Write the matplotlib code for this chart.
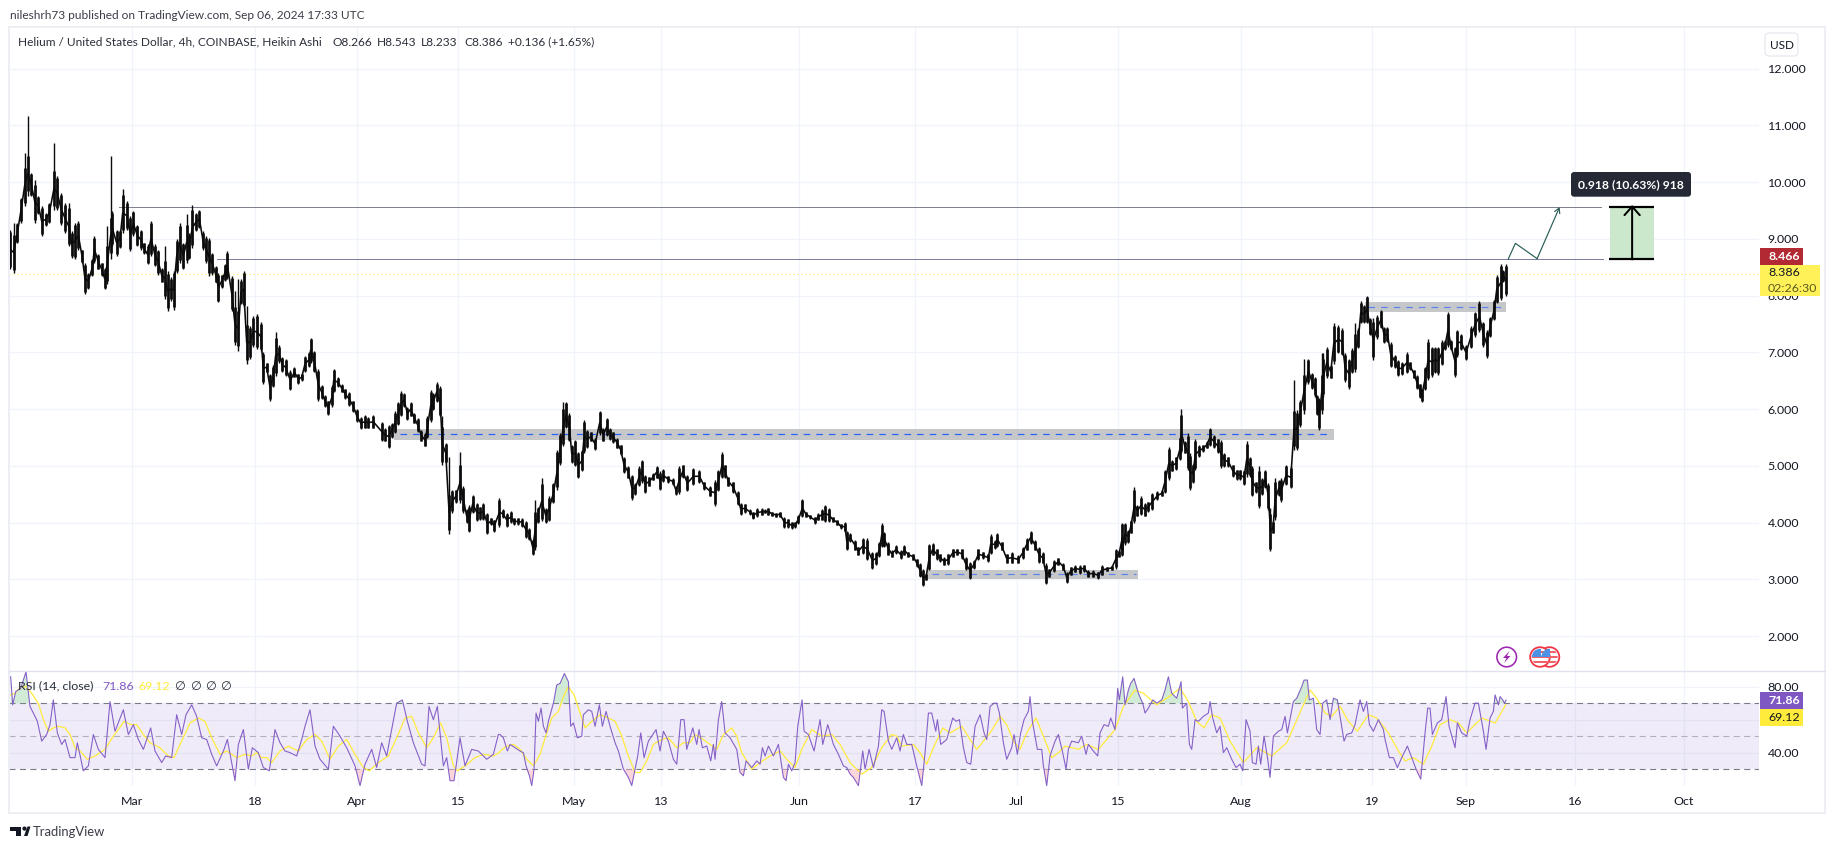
import numpy as np
import matplotlib
matplotlib.use("Agg")
import matplotlib.pyplot as plt
from matplotlib.patches import Rectangle, Circle, Polygon, FancyBboxPatch

plt.rcParams['font.family'] = ['Lato', 'DejaVu Sans']
W, H = 1835, 849
PX = 72 / 100

# ---- price data: time ticks (1 tick = 1/21.75 day from each block start) ----
block_start = [-17.52, 34.21, 85.24, 136.28]
t1 = [15,26,37,48,59,68,79,90,100,110,
122,133,147,157,168,180,191,200,210,220,
231,240,250,262,268,280,290,299,307,317,
322,335,345,353,365,376,385,397,407,417,
428,438,450,460,470,480,488,497,506,515,
524,535,545,552,562,573,583,594,604,612,
622,632,640,650,660,667,680,690,700,708,
716,725,735,745,755,767,775,785,795,805,
812,822,832,842,856,868,880,890,900,912,
917,928,940,950,960,970,982,986,998,1010,
1020,1032,1045,1055,1067,1080,1090,1105]
hi1 = [9.16,9.28,9.28,9.72,10.51,11.16,10.16,10.04,9.75,9.57,
9.46,9.63,10.68,10.1,9.81,9.63,9.63,9.13,9.28,9.31,
8.81,8.58,8.40,8.64,9.05,8.73,8.58,8.49,9.22,10.46,
9.49,9.16,9.16,9.87,9.66,9.4,9.49,9.25,9.16,8.93,
8.9,9.31,8.9,8.81,8.49,8.87,8.43,8.32,8.43,8.99,
9.27,8.93,9.43,9.1,9.6,9.46,9.51,9.13,9.05,9.02,
8.75,8.52,8.4,8.37,8.55,8.78,8.35,8.08,8.29,8.29,
8.43,7.82,7.47,7.64,7.67,7.53,7.0,6.82,6.62,6.77,
7.35,7.12,6.91,6.88,6.68,6.74,6.62,6.62,6.94,7.0,
7.26,7.03,6.71,6.42,6.24,6.15,6.42,6.71,6.56,6.44,
6.36,6.3,6.15,6.0,5.86,5.89,5.86,5.89]
lo1 = [8.46,8.40,8.93,9.28,9.57,9.75,9.75,9.28,9.43,9.05,
9.22,9.28,9.51,9.51,9.25,9.1,8.87,8.67,8.65,8.81,
8.58,8.02,8.11,8.35,8.58,8.46,8.35,8.11,8.2,8.64,
8.87,8.7,8.84,9.1,9.16,8.78,9.05,8.87,8.81,8.73,
8.55,8.7,8.52,8.37,8.23,7.94,7.73,7.91,7.75,8.4,
8.58,8.46,8.58,8.64,8.84,9.13,9.19,8.81,8.58,8.35,
8.37,8.23,7.88,8.14,8.26,8.29,7.73,7.12,7.03,7.85,
7.79,6.8,6.88,7.09,7.06,7.03,6.44,6.65,6.15,6.39,
6.59,6.82,6.65,6.59,6.33,6.56,6.44,6.5,6.65,6.74,
6.82,6.65,6.15,6.18,6.04,5.89,6.04,6.3,6.39,6.3,
6.18,6.06,5.95,5.77,5.65,5.66,5.66,5.66]

t2 = [5,15,26,35,45,55,63,72,82,92,
103,113,124,135,142,152,160,170,180,187,
197,207,217,227,240,250,260,268,278,290,
300,310,322,332,343,358,368,380,392,402,
415,425,438,448,458,466,473,485,497,507,
520,532,540,550,558,568,575,585,595,606,
612,622,632,645,659,670,680,690,700,712,
722,732,745,755,765,778,785,795,808,820,
830,840,850,865,878,888,898,908,922,940,
958,972,990,1005,1015,1026,1035,1045,1060,1073,
1082,1095,1110,1120]
hi2 = [5.78,5.66,5.72,5.75,5.96,6.13,6.31,6.28,6.04,6.13,
5.93,5.84,5.63,5.57,5.87,6.34,6.28,6.47,6.4,5.87,
5.4,5.16,4.58,4.58,5.25,4.64,4.23,4.31,4.49,4.34,
4.28,4.34,4.17,4.08,4.05,4.43,4.23,4.17,4.2,4.08,
4.08,4.08,4.02,3.9,3.7,4.4,4.28,4.78,4.26,4.46,
4.7,5.28,5.57,6.13,6.13,5.93,5.37,5.46,5.25,5.28,
5.81,5.63,5.6,5.49,5.97,5.66,5.85,5.66,5.6,5.49,
5.37,5.16,4.99,4.84,4.7,4.99,5.1,4.84,4.81,4.87,
5.0,4.9,4.94,4.82,4.78,4.64,4.99,5.02,4.84,4.96,
4.93,4.72,4.64,4.75,4.93,5.24,5.02,4.81,4.72,4.55,
4.34,4.33,4.23,4.17]
lo2 = [5.43,5.43,5.31,5.49,5.57,5.72,5.87,6.04,5.81,5.87,
5.75,5.6,5.43,5.34,5.49,5.78,5.99,6.13,5.87,5.02,
5.05,3.79,4.17,4.34,4.34,4.17,3.99,3.83,4.17,4.02,
4.05,4.05,3.79,3.96,3.84,3.93,4.08,3.93,3.99,3.96,
3.96,3.93,3.73,3.7,3.43,3.52,3.99,4.02,3.99,4.02,
4.34,4.58,5.02,5.34,5.66,5.43,5.05,4.99,4.78,4.9,
5.22,5.31,5.43,5.28,5.55,5.43,5.52,5.46,5.4,5.31,
5.19,4.87,4.78,4.4,4.49,4.64,4.7,4.52,4.64,4.75,
4.78,4.58,4.72,4.7,4.67,4.49,4.51,4.78,4.55,4.67,
4.7,4.58,4.46,4.3,4.55,4.78,4.78,4.64,4.52,4.31,
4.14,4.17,4.14,4.08]

t3 = [10,22,35,45,55,67,78,90,103,113,
125,135,145,157,168,180,195,205,215,226,
237,248,262,272,285,290,300,315,325,338,
352,367,378,388,395,403,415,425,438,452,
463,475,490,500,510,518,528,538,548,560,
570,582,595,608,622,635,647,660,672,685,
698,715,722,735,742,755,770,785,805,818,
830,842,855,868,878,888,898,912,925,940,
950,962,975,990,1002,1015,1030,1045,1055,1070,
1085,1098,1107,1117]
hi3 = [4.19,4.25,4.25,4.23,4.26,4.19,4.17,4.19,4.1,4.07,
4.01,4.01,4.13,4.41,4.19,4.13,4.1,4.16,4.23,4.31,
4.25,4.1,4.05,3.98,4.01,3.85,3.81,3.69,3.57,3.72,
3.72,3.48,3.48,3.66,3.99,3.84,3.66,3.51,3.6,3.51,
3.6,3.48,3.45,3.36,3.28,3.19,3.1,3.63,3.64,3.54,
3.45,3.39,3.45,3.54,3.54,3.54,3.39,3.31,3.34,3.54,
3.48,3.45,3.79,3.69,3.82,3.66,3.45,3.48,3.42,3.57,
3.72,3.85,3.69,3.57,3.48,3.28,3.19,3.34,3.38,3.28,
3.13,3.22,3.25,3.25,3.26,3.16,3.16,3.13,3.25,3.22,
3.24,3.54,3.51,4.0]
lo3 = [4.07,4.1,4.13,4.16,4.13,4.11,4.1,4.1,3.91,3.91,
3.89,3.91,3.98,4.1,4.1,4.07,3.98,4.04,4.04,4.01,
4.01,4.01,3.95,3.89,3.84,3.51,3.66,3.51,3.42,3.45,
3.34,3.19,3.25,3.39,3.57,3.57,3.42,3.39,3.45,3.36,
3.42,3.39,3.34,3.22,3.04,2.88,2.98,3.16,3.42,3.34,
3.31,3.25,3.25,3.39,3.42,3.36,3.16,3.0,3.19,3.34,
3.36,3.31,3.45,3.54,3.57,3.51,3.28,3.28,3.28,3.36,
3.51,3.63,3.51,3.28,3.28,2.92,3.04,3.13,3.25,3.16,
2.94,3.07,3.13,3.1,3.13,3.04,3.04,3.01,3.07,3.15,
3.16,3.19,3.39,3.48]

t4 = [5,15,25,32,43,52,62,75,85,97,
112,125,135,146,155,168,180,184,195,203,
209,218,226,237,250,260,270,282,293,303,
313,325,338,350,360,372,380,390,397,408,
418,427,436,445,451,459,465,476,484,498,
512,522,530,540,551,565,575,585,592,598,
605,610,620,632,641,655,666,675,686,697,
705,715,722,732,741,750,760,772,783,792,
802,812,825,833,845,860,870,882,890,900,
905,915,924,935,945,955,965,975,984,992,
1005,1012,1022,1038,1052,1065,1078,1090,1100,1110,
1122,1130,1143,1150,1157]
hi4 = [3.7,3.99,3.87,4.05,4.62,4.31,4.46,4.34,4.37,4.52,
4.55,4.57,4.93,5.33,5.1,5.16,5.51,6.0,5.43,5.57,
5.22,5.04,5.47,5.37,5.37,5.43,5.67,5.54,5.48,5.45,
5.22,5.16,5.02,4.93,4.93,4.93,5.43,5.16,4.99,4.72,
4.99,4.78,4.93,4.69,4.25,4.02,4.79,4.75,4.78,5.01,
4.99,6.51,5.98,6.16,6.89,6.89,6.63,6.57,6.25,6.19,
6.98,6.98,7.1,6.77,7.51,7.48,7.42,6.98,6.89,7.07,
7.51,7.42,7.9,7.83,8.0,7.6,7.6,7.65,7.74,7.45,
7.45,7.18,6.95,6.86,6.83,7.0,6.83,6.69,6.6,6.45,
6.36,6.74,7.24,7.1,7.1,7.1,7.21,7.21,7.71,7.21,
7.1,7.4,7.33,7.13,7.46,7.71,7.9,7.54,7.39,7.62,
7.92,8.36,8.56,8.45,8.55]
lo4 = [3.41,3.61,3.64,3.81,3.99,4.11,4.13,4.11,4.19,4.22,
4.4,4.46,4.52,4.75,4.9,4.93,5.1,5.22,5.22,4.93,
4.57,4.69,4.93,5.16,5.25,5.31,5.34,5.31,5.22,4.96,
4.98,4.98,4.81,4.75,4.75,4.66,4.81,4.81,4.46,4.52,
4.25,4.49,4.6,4.22,3.49,3.81,4.05,4.46,4.37,4.66,
4.6,5.28,5.28,5.69,5.92,6.45,6.36,6.22,5.89,5.63,
5.92,6.22,6.54,6.54,6.8,6.98,6.95,6.48,6.36,6.63,
6.66,7.07,7.51,7.51,7.51,7.3,6.87,7.24,7.42,7.16,
7.18,6.74,6.72,6.58,6.6,6.63,6.69,6.54,6.36,6.19,
6.13,6.33,6.51,6.56,6.63,6.6,6.77,7.04,7.1,7.04,
6.57,6.92,7.04,6.86,7.07,7.27,7.36,7.1,6.9,7.27,
7.57,7.86,7.92,8.24,8.0]

# ---- RSI data ----
rsi_start = [-18.21, 50.76, 119.72]
rt1 = [32,38,47,62,78,90,105,112,125,140,150,160,172,185,195,210,225,232,250,265,
280,295,315,330,345,370,385,400,415,430,452,465,485,497,515,530,545,558,575,590,
605,620,635,650,672,682,705,715,730,745,757,775,790,808,825,840,855,870,890,905,
915,930,945,960,985,1000,1020,1040,1065,1080,1095,1115,1130,1145,1160,1172,1190,1207,1222,1240,
1265,1275,1287,1300,1312,1330,1340,1350,1362,1380,1395,1415,1435,1460,1480,1495]
rv1 = [86,69,77,79,89,68,62,59,47,51,57,72,52,45,48,37,37,46,29,32,
51,42,37,71,53,66,51,57,48,42,55,41,34,38,37,63,51,63,69,62,
49,48,39,32,42,48,23,45,54,30,43,40,31,29,54,46,41,40,38,48,
56,66,44,36,30,56,50,43,32,20,33,42,31,46,38,51,70,72,59,46,
33,32,68,60,68,32,37,23,23,49,32,42,41,36,39,51]
rt2 = [0,10,22,30,45,60,70,78,88,95,102,108,115,123,130,138,145,160,170,180,
193,205,212,220,232,245,250,265,275,285,298,307,318,330,345,355,370,385,395,405,
413,422,432,445,468,480,490,505,520,530,542,552,560,578,590,597,607,620,632,640,
645,655,665,675,690,710,720,730,738,755,770,780,787,795,805,820,835,850,858,865,
875,885,893,906,912,925,942,960,968,983,1000,1015,1030,1040,1050,1060,1075,1088,1095,1107,
1120,1135,1145,1152,1165,1175,1190,1200,1210,1220,1235,1250,1265,1275,1285,1295,1307,1312,1322,1340,
1358,1368,1378,1390,1400,1412,1425,1440,1452,1460,1470,1482,1490,1498]
rv2 = [51,49,41,45,43,41,40,32,26,20,30,64,59,67,56,52,59,70,81,82,
88,83,56,58,49,50,63,66,65,56,69,56,65,56,46,41,30,25,20,30,
38,52,37,47,54,41,53,47,36,33,60,60,42,55,45,54,43,44,35,45,
36,60,71,52,49,42,28,26,35,31,35,33,43,38,44,38,45,25,23,33,
29,34,56,72,53,51,41,60,45,57,45,39,32,31,27,25,20,41,30,42,
31,44,66,65,47,42,49,41,51,45,45,32,20,40,64,64,53,60,45,48,
61,59,60,43,34,33,56,63,52,48,68,70,70,64]
rt3 = [0,10,20,35,42,52,62,72,85,90,97,112,125,130,140,150,165,175,188,198,
205,215,235,245,258,265,280,293,300,312,325,332,345,353,358,368,375,385,392,402,
415,428,435,445,458,470,485,495,505,515,530,543,547,560,568,575,585,595,610,625,
630,638,650,660,670,680,695,708,720,728,738,750,757,768,775,782,792,803,810,820,
835,845,855,862,880,890,905,912,922,928,940,950,960,968,980,990,1000,1012,1020,1032,
1040,1055,1065,1080,1090,1100,1108,1120,1135,1150,1155,1168,1180,1192,1205,1222,1235,1248,1262,1275,
1283,1290,1297,1312,1325,1338,1347,1365,1372,1385,1400,1410,1425,1435,1450,1458,1470,1480,1485,1495,
1500,1508,1513,1518]
rv3 = [61,46,36,43,51,39,52,60,65,74,59,42,42,32,20,38,47,51,40,30,
42,47,46,50,39,45,41,38,52,57,56,61,54,79,72,86,69,78,82,85,
76,70,64,67,72,70,72,78,86,76,73,83,67,70,45,42,60,59,62,64,
71,61,52,56,40,43,36,31,33,29,60,53,34,33,44,33,50,36,25,50,
53,54,62,52,71,73,80,84,84,72,73,54,51,70,72,60,73,72,62,47,
51,52,57,72,65,71,57,53,60,54,48,37,37,31,37,44,37,30,24,52,
67,67,51,58,60,74,56,43,58,52,50,60,70,70,53,42,61,65,75,69,
74,72,70,71.86]

mt1 = [32,45,62,78,95,115,130,145,160,175,195,210,225,240,262,285,315,340,355,372,
392,410,430,450,480,505,522,545,570,595,615,635,660,680,710,735,755,770,785,800,
815,840,865,895,920,945,965,990,1015,1040,1065,1090,1108,1135,1165,1190,1215,1235,1255,1280,
1300,1322,1340,1360,1372,1395,1425,1450,1480,1498]
mv1 = [75,76,80,80,76,70,60,53,55,56,55,51,43,41,36,38,42,50,54,59,
57,57,51,46,43,38,37,47,58,61,59,49,39,41,37,39,38,40,37,37,
34,41,44,41,48,51,47,36,44,48,39,31,29,34,38,49,61,62,52,43,
49,58,49,32,29,32,37,39,38,40]
mt2 = [0,20,40,60,80,100,120,140,155,175,190,205,222,240,255,275,300,325,345,365,
385,405,420,440,460,485,505,530,550,570,585,610,630,650,670,695,710,725,755,780,
810,840,860,885,905,935,965,995,1020,1050,1085,1115,1145,1175,1190,1205,1240,1260,1280,1300,
1328,1350,1385,1410,1430,1470,1498]
mv2 = [41,44,45,42,36,32,39,52,61,65,74,80,75,64,55,59,63,61,59,50,
38,28,28,35,45,48,49,43,46,46,51,48,45,42,51,55,50,40,30,34,
38,41,36,31,42,54,50,51,45,34,27,31,43,51,50,44,45,40,33,43,
55,52,56,48,42,52,61]
mt3 = [0,20,40,60,80,108,130,155,175,195,235,260,295,320,345,370,405,430,470,500,
540,565,590,612,635,660,690,730,770,815,860,895,930,950,975,995,1020,1045,1072,1105,
1130,1165,1195,1215,1240,1270,1295,1320,1350,1375,1400,1445,1485,1500,1517]
mv3 = [62,57,47,42,52,61,50,37,40,44,42,45,42,48,54,68,78,76,69,73,
79,71,59,55,63,61,47,34,43,38,46,62,78,73,64,62,68,59,53,63,
61,52,41,35,37,33,44,57,60,58,52,61,58,63,69.12]

tick_days = [0, 17, 31, 45, 61, 73, 92, 108, 122, 136, 153, 171, 184, 199, 214]
tick_names = ['Mar', '18', 'Apr', '15', 'May', '13', 'Jun', '17', 'Jul', '15', 'Aug', '19', 'Sep', '16', 'Oct']
price_ticks = [2, 3, 4, 5, 6, 7, 8, 9, 10, 11, 12]
last_close = 8.386
level_upper, level_lower = 9.555, 8.637

def days(start, ticks):
    return start + np.array(ticks, float) / 21.75

bar_t = np.concatenate([days(block_start[0], t1), days(block_start[1], t2),
                        days(block_start[2], t3), days(block_start[3], t4)])
bar_hi = np.array(hi1 + hi2 + hi3 + hi4)
bar_lo = np.array(lo1 + lo2 + lo3 + lo4)
rsi_t = np.concatenate([days(rsi_start[0], rt1), days(rsi_start[1], rt2), days(rsi_start[2], rt3)])
rsi_v = np.array(rv1 + rv2 + rv3, float)
ma_t = np.concatenate([days(rsi_start[0], mt1), days(rsi_start[1], mt2), days(rsi_start[2], mt3)])
ma_v = np.array(mv1 + mv2 + mv3, float)

fig = plt.figure(figsize=(W / 100, H / 100), dpi=100, facecolor='white')
def pane(l, t, r, b):
    return fig.add_axes([l / W, 1 - b / H, (r - l) / W, (b - t) / H])
ax = pane(9, 27, 1759, 671)
rx = pane(9, 671, 1759, 786)
XL = (-16.97, 224.4)
GRID = '#f0f3fa'
TXT = '#131722'
FS = 12 * PX * 1.03

for a in (ax, rx):
    a.set_xlim(*XL)
    for s in a.spines.values():
        s.set_visible(False)
    a.set_xticks(tick_days)
    a.grid(True, color=GRID, lw=1.3 * PX)
    a.set_axisbelow(True)
    a.yaxis.tick_right()
    a.tick_params(length=0, labelsize=FS, labelcolor=TXT, pad=6.3)

ax.set_ylim(1.384, 12.732)
ax.set_yticks(price_ticks)
ax.set_yticklabels([f'{v:.3f}' for v in price_ticks])
ax.set_xticklabels([])

# zones
zone_low = [5.46, 3.005, 7.71]
zone_high = [5.65, 3.164, 7.89]
zone_mid = [5.555, 3.088, 7.80]
zone_from = [36.2, 109.6, 170.1]
zone_to = [165.8, 138.8, 189.5]
dash_from = [37.0, 110.3, 170.5]
dash_to = [165.1, 138.5, 188.8]
dash_col = ['#2962ff', '#5f84f2', '#5f84f2']
for i in range(3):
    ax.fill_between([zone_from[i], zone_to[i]], zone_low[i], zone_high[i], color='#c6c7c9', lw=0, zorder=2)
    ax.plot([dash_from[i], dash_to[i]], [zone_mid[i]] * 2, color=dash_col[i], lw=1.2 * PX,
            dashes=(5.5, 5), zorder=2.5)

# levels and last price
ax.plot([-1.8, 202.6], [level_upper] * 2, color='#80838e', lw=1.0 * PX, zorder=2)
ax.plot([11.7, 202.9], [level_lower] * 2, color='#7d80a0', lw=1.0 * PX, zorder=2)
ax.plot([XL[0], XL[1]], [last_close] * 2, color='#ffeb3b', lw=1.0 * PX, ls=(0, (1, 3)), zorder=2)

# bars
rng = bar_hi - bar_lo
body_lo = bar_lo + 0.06 * rng
body_hi = body_lo + np.minimum(0.88 * rng, 0.62)
ax.plot(bar_t, (body_lo + body_hi) / 2, color='#0b0b0b', lw=1.6 * PX, zorder=3)
ax.vlines(bar_t, bar_lo, bar_hi, color='#0b0b0b', lw=1.4 * PX, zorder=3)
ax.vlines(bar_t, body_lo, body_hi, color='#0b0b0b', lw=2.7 * PX, zorder=3)

# projection path
path_t = [189.8, 190.8, 193.8, 196.9]
path_p = [8.64, 8.92, 8.65, 9.56]
ax.plot(path_t[:3], path_p[:3], color='#2b5f58', lw=1.2 * PX, zorder=4)
ax.annotate('', xy=(path_t[3], path_p[3]), xytext=(path_t[2], path_p[2]),
            arrowprops=dict(arrowstyle='->,head_length=0.35,head_width=0.2', color='#2b5f58', lw=1.2 * PX,
                            shrinkA=0, shrinkB=0), zorder=4)

# long measure
ax.fill_between([203.8, 209.9], level_lower, level_upper, color='#cbe8cc', lw=0, zorder=2)
for lv in (level_upper, level_lower):
    ax.plot([203.7, 209.9], [lv, lv], color='black', lw=2.2 * PX, solid_capstyle='butt', zorder=4)
ax.annotate('', xy=(206.9, level_upper + 0.04), xytext=(206.9, level_lower),
            arrowprops=dict(arrowstyle='->,head_length=0.62,head_width=0.55', color='black', lw=2 * PX,
                            shrinkA=0, shrinkB=0), zorder=5)

# RSI pane
rx.set_ylim(19.8, 89.5)
rx.set_yticks([40, 60, 80])
rx.set_yticklabels(['40.00', '', '80.00'])
rx.set_xticklabels(tick_names)
rx.tick_params(axis='x', pad=7.5)
rx.axhspan(30, 70, color='#7e57c2', alpha=0.115, lw=0, zorder=1)
rx.axhline(70, color='#787b86', lw=1.1 * PX, dashes=(5.5, 4), zorder=2)
rx.axhline(30, color='#787b86', lw=1.1 * PX, dashes=(5.5, 4), zorder=2)
rx.axhline(50, color='#b2b0ba', lw=1.1 * PX, dashes=(5.5, 4), zorder=2)
rx.fill_between(rsi_t, 70, rsi_v, where=rsi_v > 70, interpolate=True, color='#a6d8ae', alpha=0.5, lw=0, zorder=2)
rx.fill_between(rsi_t, 30, rsi_v, where=rsi_v < 30, interpolate=True, color='#f8bcc4', alpha=0.6, lw=0, zorder=2)
rx.plot(ma_t, ma_v, color='#ffeb3b', lw=1.25 * PX, zorder=3)
rx.plot(rsi_t, rsi_v, color='#8560c8', lw=1.1 * PX, zorder=4, solid_joinstyle='round')

# overlay for the chart frame, labels and icons
ov = fig.add_axes([0, 0, 1, 1], zorder=10)
ov.set_xlim(0, W)
ov.set_ylim(H, 0)
ov.axis('off')
ov.patch.set_alpha(0)
ov.add_patch(Rectangle((9, 27), 1816, 786, fill=False, ec='#eceef4', lw=2 * PX))
ov.plot([9, 1825], [671, 671], color='#e0e0ee', lw=1.3 * PX)

def label(x, y, s, color=TXT, size=FS, weight='normal', ha='left'):
    ov.text(x, y, s, color=color, fontsize=size, fontweight=weight, ha=ha, va='center')

def box(x0, y0, x1, y1, c):
    ov.add_patch(Rectangle((x0, y0), x1 - x0, y1 - y0, fc=c, ec='none'))

label(10, 15, 'nileshrh73 published on TradingView.com, Sep 06, 2024 17:33 UTC', color='#3a3d46', size=FS * 0.965)
label(18, 42, 'Helium / United States Dollar, 4h, COINBASE, Heikin Ashi', color='#2a2e39', size=FS * 0.965)
hdr = [('O8.266', 332), ('H8.543', 377), ('L8.233', 421), ('C8.386', 464), ('+0.136 (+1.65%)', 508)]
for s, x in hdr:
    label(x, 42, s, color='#2a2e39', size=FS * 0.965)

ov.add_patch(FancyBboxPatch((1765, 33), 33, 23, boxstyle='round,pad=0,rounding_size=4', fc='white', ec='#e0e3eb', lw=1 * PX))
label(1781.5, 45, 'USD', ha='center', size=FS * 0.95)

box(1760, 248, 1803, 265, '#b22833')
label(1768, 256.5, '8.466', color='white', weight='bold')
box(1760, 265, 1820, 295.7, '#fff157')
label(1768, 273, '8.386')
label(1768, 288, '02:26:30', color='#5a5a22')
box(1760, 692, 1803, 709, '#7e57c2')
label(1768, 700.5, '71.86', color='white', weight='bold')
box(1760, 709, 1803, 726, '#ffeb3b')
label(1768, 717.5, '69.12')

# RSI legend
label(18, 686, 'RSI (14, close)', color='#2a2e39')
label(102, 686, '71.86', color='#7e57c2')
label(138, 686, '69.12', color='#ffeb3b')
for x in (179, 195, 210, 225):
    label(x, 686, '\u2205', color='#2a2e39', ha='center')

# measure tooltip
ov.add_patch(FancyBboxPatch((1571, 172), 120, 24.7, boxstyle='round,pad=0,rounding_size=3', fc='#252936', ec='none'))
ov.text(1631, 184.5, '0.918 (10.63%) 918', color='white', fontsize=FS * 0.98, fontweight='bold', ha='center', va='center')

# lightning icon
ov.add_patch(Circle((1506.7, 657), 9.8, fc='white', ec='#9c27b0', lw=1.6 * PX))
ov.add_patch(Polygon([(1509.5, 651), (1503, 658), (1506.5, 658), (1504, 663), (1510.5, 656), (1507, 656)], fc='#9c27b0', ec='none'))

# flag icons
for cx in (1549.5, 1540):
    ring = Circle((cx, 657), 9.8, fc='white', ec='#f23645', lw=1.8 * PX, zorder=5)
    ov.add_patch(ring)
    clip = Circle((cx, 657), 8.2, transform=ov.transData)
    for y in (650.5, 655.5, 660.5):
        st = Rectangle((cx - 9, y), 18, 2.8, fc='#f2606c', ec='none', zorder=5.1)
        ov.add_patch(st)
        st.set_clip_path(clip)
    cn = Rectangle((cx - 9, 648), 9.5, 8.5, fc='#4c93e6', ec='none', zorder=5.2)
    ov.add_patch(cn)
    cn.set_clip_path(clip)

# TradingView mark
ov.add_patch(Polygon([(10, 826.5), (21, 826.5), (21, 836), (16, 836), (16, 830.5), (10, 830.5)], fc='#131722', ec='none'))
ov.add_patch(Circle((24.5, 828.6), 2.1, fc='#131722', ec='none'))
ov.add_patch(Polygon([(24, 836), (27.5, 826.5), (30.5, 826.5), (27.5, 836)], fc='#131722', ec='none'))
label(33, 832, 'TradingView', color='#3a3d46', size=FS * 1.05)

fig.savefig('out.png', dpi=100, facecolor='white')
